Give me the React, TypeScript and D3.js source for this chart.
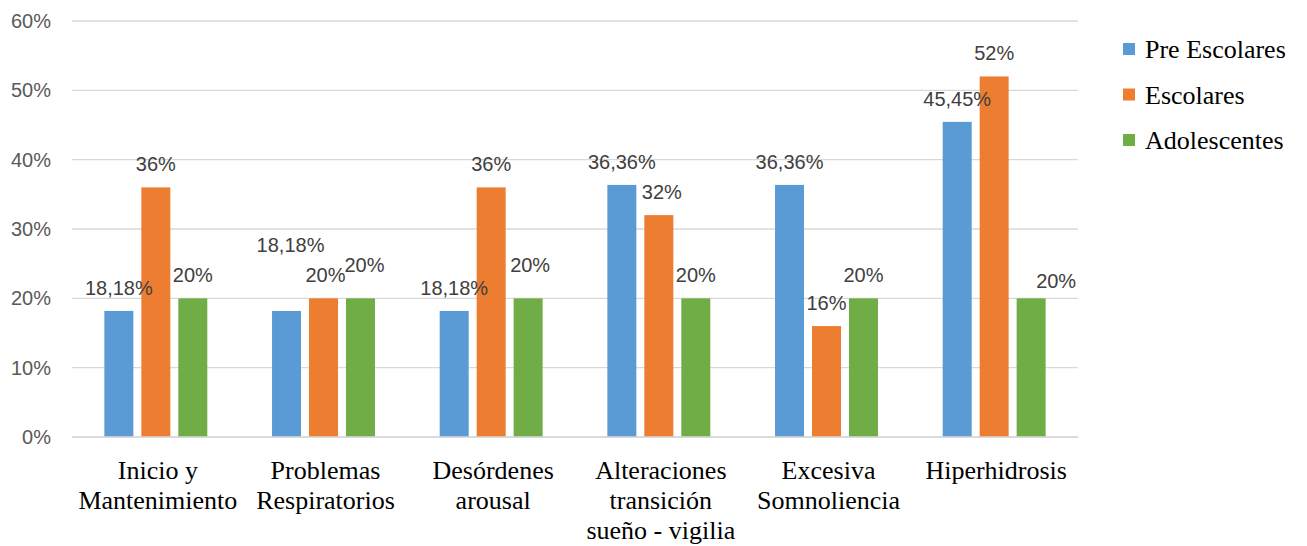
import React, { useRef, useEffect } from 'react';
import * as d3 from 'd3';

const categorias = [
  'Inicio y\nMantenimiento',
  'Problemas\nRespiratorios',
  'Desórdenes\narousal',
  'Alteraciones\ntransición\nsueño - vigilia',
  'Excesiva\nSomnoliencia',
  'Hiperhidrosis',
];
const series = ['Pre Escolares', 'Escolares', 'Adolescentes'];
const preEscolares = [18.18, 18.18, 18.18, 36.36, 36.36, 45.45];
const escolares = [36, 20, 36, 32, 16, 52];
const adolescentes = [20, 20, 20, 20, 20, 20];
const ticksY = [0, 10, 20, 30, 40, 50, 60];

const colores = ['#5B9BD5', '#ED7D31', '#70AD47'];

// ajustes de etiquetas que Excel movió para evitar solapes (categoría-serie)
const ajustes: Record<string, [number, number]> = {
  '1-0': [4, -43],
  '1-1': [2, 0],
  '1-2': [4, -10],
  '2-2': [2, -10],
  '3-1': [3, 0],
  '5-2': [25, 6],
};

const formato = (v: number) =>
  (Number.isInteger(v) ? String(v) : v.toFixed(2).replace('.', ',')) + '%';

const App: React.FC = () => {
  const svgRef = useRef<SVGSVGElement | null>(null);

  useEffect(() => {
    if (!svgRef.current) return;
    const width = 1307;
    const height = 546;
    const svg = d3.select(svgRef.current).attr('width', width).attr('height', height);
    svg.selectAll('*').remove();

    const valores = [preEscolares, escolares, adolescentes];

    const x0 = d3.scaleBand<number>()
      .domain(d3.range(categorias.length))
      .range([72, 1078])
      .paddingInner(0.386)
      .paddingOuter(0.193);
    const x1 = d3.scaleBand<number>()
      .domain(d3.range(series.length))
      .range([0, x0.bandwidth()])
      .paddingInner(0.216);
    const y = d3.scaleLinear().domain([0, 60]).range([437, 21]);

    // rejilla
    svg.append('g').selectAll('line')
      .data(ticksY)
      .enter().append('line')
      .attr('x1', 72).attr('x2', 1078)
      .attr('y1', (d) => y(d)).attr('y2', (d) => y(d))
      .attr('stroke', '#d9d9d9')
      .attr('stroke-width', 1.3);

    svg.append('g').selectAll('text')
      .data(ticksY)
      .enter().append('text')
      .attr('x', 51)
      .attr('y', (d) => y(d) + 7)
      .attr('text-anchor', 'end')
      .text((d) => `${d}%`)
      .style('fill', '#595959')
      .style('font-family', '"Liberation Sans", Arial, sans-serif')
      .style('font-size', '20px');

    // barras
    categorias.forEach((_, ci) => {
      const g = svg.append('g').attr('transform', `translate(${x0(ci)},0)`);
      series.forEach((__, si) => {
        const v = valores[si][ci];
        g.append('rect')
          .attr('x', x1(si)!)
          .attr('y', y(v))
          .attr('width', x1.bandwidth())
          .attr('height', y(0) - y(v))
          .attr('fill', colores[si]);
      });
    });

    // eje inferior
    svg.append('line')
      .attr('x1', 72).attr('x2', 1078)
      .attr('y1', y(0)).attr('y2', y(0))
      .attr('stroke', '#d9d9d9')
      .attr('stroke-width', 1.3);

    // etiquetas de datos
    categorias.forEach((_, ci) => {
      series.forEach((__, si) => {
        const v = valores[si][ci];
        const [dx, dy] = ajustes[`${ci}-${si}`] || [0, 0];
        svg.append('text')
          .attr('x', x0(ci)! + x1(si)! + x1.bandwidth() / 2 + dx)
          .attr('y', y(v) - 16 + dy)
          .attr('text-anchor', 'middle')
          .text(formato(v))
          .style('fill', '#404040')
          .style('font-family', '"Liberation Sans", Arial, sans-serif')
          .style('font-size', '20px');
      });
    });

    // categorías
    categorias.forEach((c, ci) => {
      const t = svg.append('text')
        .attr('text-anchor', 'middle')
        .style('fill', '#000')
        .style('font-family', '"Liberation Serif", "Times New Roman", serif')
        .style('font-size', '26px');
      c.split('\n').forEach((linea, li) => {
        t.append('tspan')
          .attr('x', x0(ci)! + x0.bandwidth() / 2 + 2)
          .attr('y', 479 + li * 30)
          .text(linea);
      });
    });

    // leyenda
    const leyenda = svg.append('g').attr('transform', 'translate(1123, 58)');
    leyenda.selectAll('rect')
      .data(series)
      .enter().append('rect')
      .attr('x', 0)
      .attr('y', (d, i) => i * 45.5 - 15)
      .attr('width', 12)
      .attr('height', 12)
      .attr('fill', (d, i) => colores[i]);
    leyenda.selectAll('text')
      .data(series)
      .enter().append('text')
      .attr('x', 22)
      .attr('y', (d, i) => i * 45.5)
      .text((d) => d)
      .style('fill', '#000')
      .style('font-family', '"Liberation Serif", "Times New Roman", serif')
      .style('font-size', '26px');
  }, []);

  return (
    <svg ref={svgRef} style={{ position: 'absolute', left: 0, top: 0 }}></svg>
  );
};

export default App;
